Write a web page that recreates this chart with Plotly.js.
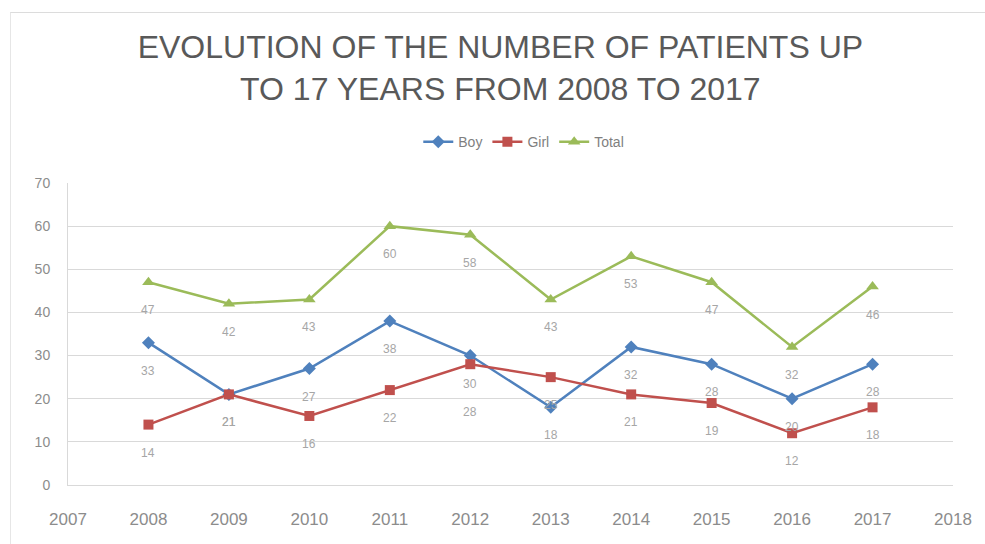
<!DOCTYPE html>
<html>
<head>
<meta charset="utf-8">
<script src="https://cdn.plot.ly/plotly-3.0.1.min.js"></script>
<style>
  html, body { margin: 0; padding: 0; background: #ffffff; }
  #chart { position: absolute; left: 0; top: 0; width: 985px; height: 544px; }
  #frame { position: absolute; left: 10px; top: 12px; width: 990px; height: 540px;
           border-top: 1px solid #dcdcdc; border-left: 1px solid #e6e6e6; pointer-events: none; }
</style>
</head>
<body>
<div id="chart"></div>
<div id="frame"></div>
<script>
const years = [2008, 2009, 2010, 2011, 2012, 2013, 2014, 2015, 2016, 2017];
const boy   = [33, 21, 27, 38, 30, 18, 32, 28, 20, 28];
const girl  = [14, 21, 16, 22, 28, 25, 21, 19, 12, 18];
const total = [47, 42, 43, 60, 58, 43, 53, 47, 32, 46];
const xTicks = [2007, 2008, 2009, 2010, 2011, 2012, 2013, 2014, 2015, 2016, 2017, 2018];
const yTicks = [0, 10, 20, 30, 40, 50, 60, 70];

const series = [
  { name: 'Boy',   values: boy,   color: '#4F81BD', symbol: 'diamond',     size: 10 },
  { name: 'Girl',  values: girl,  color: '#C0504D', symbol: 'square',      size: 10 },
  { name: 'Total', values: total, color: '#9BBB59', symbol: 'triangle-up', size: 11 }
];

const traces = series.map(s => ({
  type: 'scatter',
  mode: 'lines+markers',
  name: s.name,
  x: years,
  y: s.values,
  line: { color: s.color, width: 2.5 },
  marker: { color: s.color, symbol: s.symbol, size: s.size }
}));

// plot area pixel scale for label collision handling
const plotH = 544 - 183 - 59;
const pxPerUnit = plotH / 70;
const baseShift = -28;

const labels = [];
series.forEach(s => {
  s.values.forEach((v, i) => {
    labels.push({ x: years[i], v: v, shift: baseShift });
  });
});
// push a label further down when it would collide with another label at the same year
years.forEach(yr => {
  const group = labels.filter(l => l.x === yr).sort((a, b) => b.v - a.v);
  for (let k = 1; k < group.length; k++) {
    const prev = group[k - 1], cur = group[k];
    if (prev.v === cur.v) continue;
    const prevPos = -prev.v * pxPerUnit - prev.shift;
    const curPos = -cur.v * pxPerUnit - cur.shift;
    if (Math.abs(curPos - prevPos) < 14) {
      cur.shift = -((prevPos + 28) + cur.v * pxPerUnit);
    }
  }
});

const annotations = labels.map(l => ({
  x: l.x, y: l.v, xref: 'x', yref: 'y',
  text: String(l.v), showarrow: false, yshift: l.shift,
  font: { family: 'Liberation Sans, Arial, sans-serif', size: 12, color: '#a6a6a6' }
}));

const layout = {
  width: 985, height: 544,
  paper_bgcolor: '#ffffff', plot_bgcolor: '#ffffff',
  margin: { l: 68, r: 32, t: 183, b: 59 },
  title: {
    text: 'EVOLUTION OF THE NUMBER OF PATIENTS UP<br>TO 17 YEARS FROM 2008 TO 2017',
    font: { family: 'Liberation Sans, Arial, sans-serif', size: 32, color: '#595959' },
    x: 0.508, xanchor: 'center', y: 0.893, yanchor: 'top'
  },
  showlegend: true,
  legend: {
    orientation: 'h', x: 0.515, xanchor: 'center', y: 1.135, yanchor: 'middle',
    font: { family: 'Liberation Sans, Arial, sans-serif', size: 14, color: '#7f7f7f' },
    itemwidth: 30, traceorder: 'normal'
  },
  xaxis: {
    range: [2007, 2018], tickvals: xTicks, ticktext: xTicks.map(String),
    showgrid: false, zeroline: false, showline: true, linecolor: '#d9d9d9', linewidth: 1,
    ticks: '', ticklabelstandoff: 19,
    tickfont: { family: 'Liberation Sans, Arial, sans-serif', size: 17, color: '#8c8c8c' }
  },
  yaxis: {
    range: [0, 70], tickvals: yTicks, ticktext: yTicks.map(String),
    showgrid: true, gridcolor: '#d9d9d9', gridwidth: 1, zeroline: false,
    showline: true, linecolor: '#d9d9d9', linewidth: 1,
    ticks: '', ticklabelstandoff: 14,
    tickfont: { family: 'Liberation Sans, Arial, sans-serif', size: 14, color: '#8c8c8c' }
  },
  annotations: annotations
};

Plotly.newPlot('chart', traces, layout, { displayModeBar: false, staticPlot: true });
</script>
</body>
</html>
